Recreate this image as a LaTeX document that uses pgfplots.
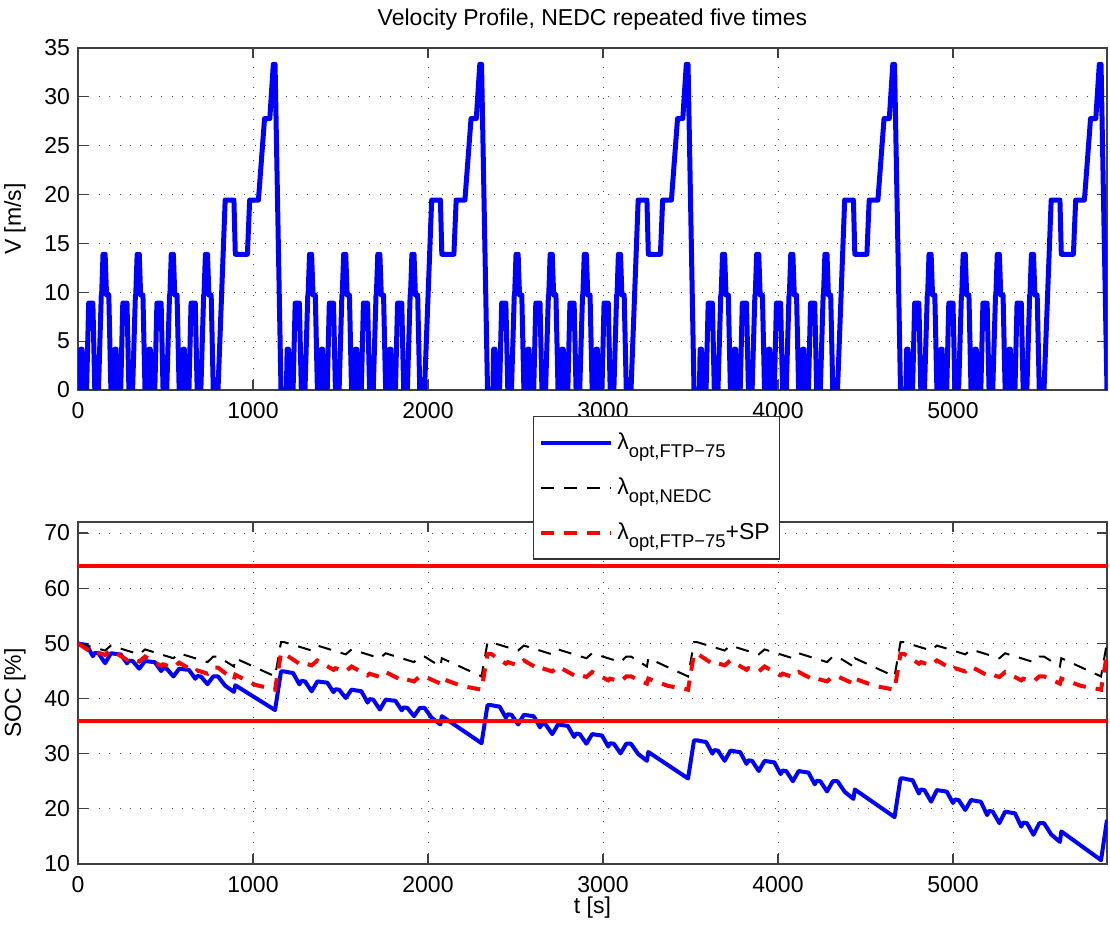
\documentclass[border=0pt]{standalone}
\usepackage{fontspec}
\setmainfont{Liberation Sans}
\usepackage{pgfplots}
\pgfplotsset{compat=1.18}
\definecolor{mblue}{RGB}{0,0,255}
\definecolor{mred}{RGB}{255,0,0}
\pgfplotsset{
  mstyle/.style={
    scale only axis, width=514.5pt, height=171pt, anchor=south west,
    xmin=0, xmax=5880,
    xtick={0,1000,2000,3000,4000,5000},
    scaled ticks=false,
    /pgf/number format/1000 sep={},
    /pgf/number format/assume math mode=true,
    tick align=inside, major tick length=5pt, tick pos=both,
    grid=major,
    major grid style={black!70, line width=0.5pt, dash pattern=on 0.5pt off 4.7pt},
    axis line style={black!75, line width=0.6pt},
    every tick/.style={black!75, line width=0.6pt},
    xticklabel style={yshift=-2pt},
    ylabel style={at={(axis description cs:-0.0612,0.5)}, anchor=center},
  }
}
\begin{document}
\fontsize{11.5}{13.8}\selectfont
\begin{tikzpicture}
\useasboundingbox (0,0) rectangle (555pt,462.5pt);
\begin{axis}[mstyle, at={(39pt,267.5pt)},
  ymin=0, ymax=35, ytick={0,5,...,35},
  ylabel={V [m/s]},
  every axis title shift=0pt,
  title={Velocity Profile, NEDC repeated five times},
  title style={at={(axis description cs:0.5,1.082)}, anchor=center, yshift=0pt},
]
\addplot[mblue, line width=2.5pt, line join=round] coordinates {
(0,0)(11,0)(15,4.17)(23,4.17)(28,0)(49,0)(61,8.89)(85,8.89)(96,0)(117,0)(133,9.72)(135,9.72)(143,13.89)(155,13.89)(163,9.72)(176,9.72)(188,0)
(195,0)(206,0)(210,4.17)(218,4.17)(223,0)(244,0)(256,8.89)(280,8.89)(291,0)(312,0)(328,9.72)(330,9.72)(338,13.89)(350,13.89)(358,9.72)(371,9.72)(383,0)
(390,0)(401,0)(405,4.17)(413,4.17)(418,0)(439,0)(451,8.89)(475,8.89)(486,0)(507,0)(523,9.72)(525,9.72)(533,13.89)(545,13.89)(553,9.72)(566,9.72)(578,0)
(585,0)(596,0)(600,4.17)(608,4.17)(613,0)(634,0)(646,8.89)(670,8.89)(681,0)(702,0)(718,9.72)(720,9.72)(728,13.89)(740,13.89)(748,9.72)(761,9.72)(773,0)
(780,0)(800,0)(841,19.44)(891,19.44)(899,13.89)(968,13.89)(981,19.44)(1031,19.44)(1066,27.78)(1096,27.78)(1116,33.33)(1126,33.33)(1160,0)
(1180,0)(1191,0)(1195,4.17)(1203,4.17)(1208,0)(1229,0)(1241,8.89)(1265,8.89)(1276,0)(1297,0)(1313,9.72)(1315,9.72)(1323,13.89)(1335,13.89)(1343,9.72)(1356,9.72)(1368,0)
(1375,0)(1386,0)(1390,4.17)(1398,4.17)(1403,0)(1424,0)(1436,8.89)(1460,8.89)(1471,0)(1492,0)(1508,9.72)(1510,9.72)(1518,13.89)(1530,13.89)(1538,9.72)(1551,9.72)(1563,0)
(1570,0)(1581,0)(1585,4.17)(1593,4.17)(1598,0)(1619,0)(1631,8.89)(1655,8.89)(1666,0)(1687,0)(1703,9.72)(1705,9.72)(1713,13.89)(1725,13.89)(1733,9.72)(1746,9.72)(1758,0)
(1765,0)(1776,0)(1780,4.17)(1788,4.17)(1793,0)(1814,0)(1826,8.89)(1850,8.89)(1861,0)(1882,0)(1898,9.72)(1900,9.72)(1908,13.89)(1920,13.89)(1928,9.72)(1941,9.72)(1953,0)
(1960,0)(1980,0)(2021,19.44)(2071,19.44)(2079,13.89)(2148,13.89)(2161,19.44)(2211,19.44)(2246,27.78)(2276,27.78)(2296,33.33)(2306,33.33)(2340,0)
(2360,0)(2371,0)(2375,4.17)(2383,4.17)(2388,0)(2409,0)(2421,8.89)(2445,8.89)(2456,0)(2477,0)(2493,9.72)(2495,9.72)(2503,13.89)(2515,13.89)(2523,9.72)(2536,9.72)(2548,0)
(2555,0)(2566,0)(2570,4.17)(2578,4.17)(2583,0)(2604,0)(2616,8.89)(2640,8.89)(2651,0)(2672,0)(2688,9.72)(2690,9.72)(2698,13.89)(2710,13.89)(2718,9.72)(2731,9.72)(2743,0)
(2750,0)(2761,0)(2765,4.17)(2773,4.17)(2778,0)(2799,0)(2811,8.89)(2835,8.89)(2846,0)(2867,0)(2883,9.72)(2885,9.72)(2893,13.89)(2905,13.89)(2913,9.72)(2926,9.72)(2938,0)
(2945,0)(2956,0)(2960,4.17)(2968,4.17)(2973,0)(2994,0)(3006,8.89)(3030,8.89)(3041,0)(3062,0)(3078,9.72)(3080,9.72)(3088,13.89)(3100,13.89)(3108,9.72)(3121,9.72)(3133,0)
(3140,0)(3160,0)(3201,19.44)(3251,19.44)(3259,13.89)(3328,13.89)(3341,19.44)(3391,19.44)(3426,27.78)(3456,27.78)(3476,33.33)(3486,33.33)(3520,0)
(3540,0)(3551,0)(3555,4.17)(3563,4.17)(3568,0)(3589,0)(3601,8.89)(3625,8.89)(3636,0)(3657,0)(3673,9.72)(3675,9.72)(3683,13.89)(3695,13.89)(3703,9.72)(3716,9.72)(3728,0)
(3735,0)(3746,0)(3750,4.17)(3758,4.17)(3763,0)(3784,0)(3796,8.89)(3820,8.89)(3831,0)(3852,0)(3868,9.72)(3870,9.72)(3878,13.89)(3890,13.89)(3898,9.72)(3911,9.72)(3923,0)
(3930,0)(3941,0)(3945,4.17)(3953,4.17)(3958,0)(3979,0)(3991,8.89)(4015,8.89)(4026,0)(4047,0)(4063,9.72)(4065,9.72)(4073,13.89)(4085,13.89)(4093,9.72)(4106,9.72)(4118,0)
(4125,0)(4136,0)(4140,4.17)(4148,4.17)(4153,0)(4174,0)(4186,8.89)(4210,8.89)(4221,0)(4242,0)(4258,9.72)(4260,9.72)(4268,13.89)(4280,13.89)(4288,9.72)(4301,9.72)(4313,0)
(4320,0)(4340,0)(4381,19.44)(4431,19.44)(4439,13.89)(4508,13.89)(4521,19.44)(4571,19.44)(4606,27.78)(4636,27.78)(4656,33.33)(4666,33.33)(4700,0)
(4720,0)(4731,0)(4735,4.17)(4743,4.17)(4748,0)(4769,0)(4781,8.89)(4805,8.89)(4816,0)(4837,0)(4853,9.72)(4855,9.72)(4863,13.89)(4875,13.89)(4883,9.72)(4896,9.72)(4908,0)
(4915,0)(4926,0)(4930,4.17)(4938,4.17)(4943,0)(4964,0)(4976,8.89)(5000,8.89)(5011,0)(5032,0)(5048,9.72)(5050,9.72)(5058,13.89)(5070,13.89)(5078,9.72)(5091,9.72)(5103,0)
(5110,0)(5121,0)(5125,4.17)(5133,4.17)(5138,0)(5159,0)(5171,8.89)(5195,8.89)(5206,0)(5227,0)(5243,9.72)(5245,9.72)(5253,13.89)(5265,13.89)(5273,9.72)(5286,9.72)(5298,0)
(5305,0)(5316,0)(5320,4.17)(5328,4.17)(5333,0)(5354,0)(5366,8.89)(5390,8.89)(5401,0)(5422,0)(5438,9.72)(5440,9.72)(5448,13.89)(5460,13.89)(5468,9.72)(5481,9.72)(5493,0)
(5500,0)(5520,0)(5561,19.44)(5611,19.44)(5619,13.89)(5688,13.89)(5701,19.44)(5751,19.44)(5786,27.78)(5816,27.78)(5836,33.33)(5846,33.33)(5880,0)
};
\end{axis}
\begin{axis}[mstyle, at={(39pt,30.5pt)},
  ymin=10, ymax=72, ytick={10,20,...,70},
  ylabel={SOC [\%]}, xlabel={t [s]},
  xlabel style={at={(axis description cs:0.5,-0.128)}, anchor=center},
  legend style={at={(0.442,1.31)}, anchor=north west, draw=black!80, line width=0.6pt, fill=white, inner xsep=3pt, inner ysep=6pt, row sep=8.5pt},
  legend cell align=left,
  legend image code/.code={\draw[#1, line cap=butt] (0pt,0pt) -- (35pt,0pt);},
]
\addplot[mblue, line width=2pt, line join=round] coordinates {
(0,50.00)(28,49.82)(49,49.73)(85,47.66)(96,48.29)(117,48.20)(155,46.40)(188,48.20)
(223,48.06)(244,47.99)(280,46.38)(291,46.87)(312,46.80)(350,45.40)(383,46.80)
(418,46.66)(439,46.59)(475,44.98)(486,45.47)(507,45.40)(545,44.00)(578,45.40)
(613,45.26)(634,45.19)(670,43.58)(681,44.07)(702,44.00)(740,42.60)(773,44.00)
(800,44.00)(841,42.32)(891,41.20)(899,42.40)(1126,37.90)(1160,44.90)
(1180,44.90)(1208,44.72)(1229,44.63)(1265,42.56)(1276,43.19)(1297,43.10)(1335,41.30)(1368,43.10)
(1403,42.95)(1424,42.88)(1460,41.15)(1471,41.68)(1492,41.60)(1530,40.10)(1563,41.60)
(1598,41.42)(1619,41.33)(1655,39.26)(1666,39.89)(1687,39.80)(1725,38.00)(1758,39.80)
(1793,39.65)(1814,39.58)(1850,37.85)(1861,38.38)(1882,38.30)(1920,36.80)(1953,38.30)
(1980,38.30)(2021,36.50)(2071,35.30)(2079,36.80)(2306,31.90)(2340,38.80)
(2360,38.80)(2388,38.63)(2409,38.54)(2445,36.53)(2456,37.14)(2477,37.05)(2515,35.30)(2548,37.05)
(2583,36.88)(2604,36.79)(2640,34.78)(2651,35.39)(2672,35.30)(2710,33.55)(2743,35.30)
(2778,35.13)(2799,35.04)(2835,33.03)(2846,33.64)(2867,33.55)(2905,31.80)(2938,33.55)
(2973,33.38)(2994,33.29)(3030,31.28)(3041,31.89)(3062,31.80)(3100,30.05)(3133,31.80)
(3160,31.80)(3201,29.94)(3251,28.70)(3259,30.30)(3486,25.50)(3520,32.40)
(3540,32.40)(3568,32.22)(3589,32.12)(3625,30.00)(3636,30.64)(3657,30.55)(3695,28.70)(3728,30.55)
(3763,30.37)(3784,30.27)(3820,28.15)(3831,28.79)(3852,28.70)(3890,26.85)(3923,28.70)
(3958,28.52)(3979,28.42)(4015,26.30)(4026,26.94)(4047,26.85)(4085,25.00)(4118,26.85)
(4153,26.67)(4174,26.57)(4210,24.45)(4221,25.09)(4242,25.00)(4280,23.15)(4313,25.00)
(4340,25.00)(4381,23.08)(4431,21.80)(4439,23.50)(4666,18.50)(4700,25.50)
(4720,25.50)(4748,25.29)(4769,25.19)(4805,22.77)(4816,23.51)(4837,23.40)(4875,21.30)(4908,23.40)
(4943,23.22)(4964,23.13)(5000,21.06)(5011,21.69)(5032,21.60)(5070,19.80)(5103,21.60)
(5138,21.39)(5159,21.29)(5195,18.87)(5206,19.61)(5227,19.50)(5265,17.40)(5298,19.50)
(5333,19.29)(5354,19.19)(5390,16.77)(5401,17.51)(5422,17.40)(5460,15.30)(5493,17.40)
(5520,17.40)(5561,15.36)(5611,14.00)(5619,15.90)(5846,10.70)(5880,18.00)
};
\addlegendentry{λ\raisebox{-4pt}{\fontsize{9.2}{10}\selectfont opt,FTP−75}}
\addplot[black, line width=1pt, dash pattern=on 6.5pt off 5pt] coordinates {
(0,50.0)(155,48.7)(188,49.6)(350,48.0)(383,48.9)(545,47.3)(578,48.2)(740,46.6)(773,47.6)(800,47.6)(891,45.8)(899,47.3)(1126,44.0)(1160,50.2)
(1180,50.2)(1335,48.7)(1368,49.6)(1530,48.0)(1563,48.9)(1725,47.3)(1758,48.2)(1920,46.6)(1953,47.6)(1980,47.6)(2071,45.8)(2079,47.3)(2306,44.0)(2340,50.2)
(2360,50.2)(2515,48.7)(2548,49.6)(2710,48.0)(2743,48.9)(2905,47.3)(2938,48.2)(3100,46.6)(3133,47.6)(3160,47.6)(3251,45.8)(3259,47.3)(3486,44.0)(3520,50.2)
(3540,50.2)(3695,48.7)(3728,49.6)(3890,48.0)(3923,48.9)(4085,47.3)(4118,48.2)(4280,46.6)(4313,47.6)(4340,47.6)(4431,45.8)(4439,47.3)(4666,44.0)(4700,50.2)
(4720,50.2)(4875,48.7)(4908,49.6)(5070,48.0)(5103,48.9)(5265,47.3)(5298,48.2)(5460,46.6)(5493,47.6)(5520,47.6)(5611,45.8)(5619,47.3)(5846,44.0)(5880,50.2)
};
\addlegendentry{λ\raisebox{-4pt}{\fontsize{9.2}{10}\selectfont opt,NEDC}}
\addplot[mred, line width=2pt, dash pattern=on 6.5pt off 5pt] coordinates {
(0,50.0)(85,48.2)(96,48.5)(155,47.9)(188,48.8)(280,47.0)(291,47.3)(350,46.7)(383,47.6)(475,45.9)(486,46.2)(545,45.6)(578,46.5)(670,44.8)(681,45.1)(740,44.5)(773,45.6)(800,45.6)(891,43.4)(899,44.3)(1010,42.5)(1126,41.6)(1160,48.2)
(1180,48.1)(1265,46.3)(1276,46.6)(1335,46.0)(1368,46.9)(1460,45.2)(1471,45.5)(1530,44.9)(1563,45.8)(1655,44.2)(1666,44.5)(1725,43.9)(1758,44.8)(1850,43.3)(1861,43.6)(1920,43.1)(1953,44.0)(1980,44.0)(2071,42.7)(2079,43.6)(2190,42.3)(2306,41.6)(2340,48.1)
(2360,48.1)(2445,46.3)(2456,46.6)(2515,46.0)(2548,46.9)(2640,45.2)(2651,45.5)(2710,44.9)(2743,45.8)(2835,44.2)(2846,44.5)(2905,43.9)(2938,44.8)(3030,43.3)(3041,43.6)(3100,43.1)(3133,44.0)(3160,44.0)(3251,42.7)(3259,43.6)(3370,42.3)(3486,41.6)(3520,48.1)
(3540,48.1)(3625,46.3)(3636,46.6)(3695,46.0)(3728,46.9)(3820,45.2)(3831,45.5)(3890,44.9)(3923,45.8)(4015,44.2)(4026,44.5)(4085,43.9)(4118,44.8)(4210,43.3)(4221,43.6)(4280,43.1)(4313,44.0)(4340,44.0)(4431,42.7)(4439,43.6)(4550,42.3)(4666,41.6)(4700,48.1)
(4720,48.1)(4805,46.3)(4816,46.6)(4875,46.0)(4908,46.9)(5000,45.2)(5011,45.5)(5070,44.9)(5103,45.8)(5195,44.2)(5206,44.5)(5265,43.9)(5298,44.8)(5390,43.3)(5401,43.6)(5460,43.1)(5493,44.0)(5520,44.0)(5611,42.7)(5619,43.6)(5730,42.3)(5846,41.6)(5880,48.1)
};
\addlegendentry{λ\raisebox{-4pt}{\fontsize{9.2}{10}\selectfont opt,FTP−75}+SP}
\addplot[mred, line width=2pt, forget plot] coordinates {(0,64)(5880,64)};
\addplot[mred, line width=2pt, forget plot] coordinates {(0,36)(5880,36)};
\end{axis}
\end{tikzpicture}
\end{document}
